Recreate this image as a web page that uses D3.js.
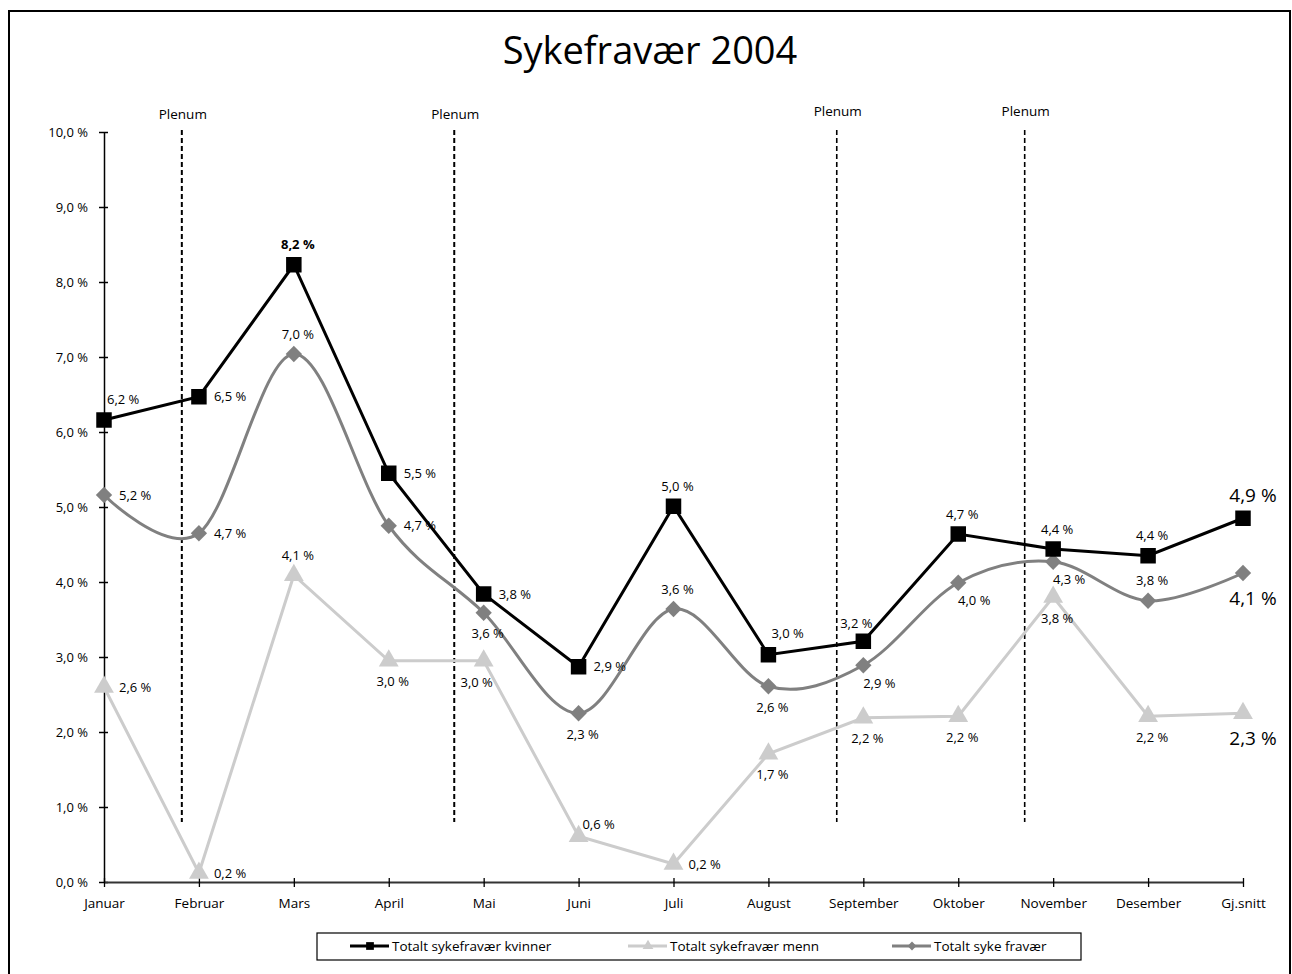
<!DOCTYPE html>
<html>
<head>
<meta charset="utf-8">
<script src="https://cdn.jsdelivr.net/npm/d3@7"></script>
<style>
	body { margin: 0; background: #fff; }
	text { font-family: "Open Sans", "Noto Sans", sans-serif; fill: #000; }
</style>
</head>
<body>
<div class="main"></div>
<script>
//data
var months = ["Januar", "Februar", "Mars", "April", "Mai", "Juni", "Juli", "August", "September", "Oktober", "November", "Desember", "Gj.snitt"];
var kvinner = [6.16, 6.47, 8.23, 5.45, 3.84, 2.87, 5.01, 3.03, 3.21, 4.64, 4.44, 4.35, 4.85];
var menn = [2.6, 0.12, 4.09, 2.95, 2.95, 0.61, 0.24, 1.71, 2.19, 2.21, 3.8, 2.21, 2.25];
var totalt = [5.16, 4.65, 7.04, 4.75, 3.59, 2.25, 3.64, 2.61, 2.89, 3.99, 4.27, 3.75, 4.12];
var kvinnerLabels = ["6,2 %", "6,5 %", "8,2 %", "5,5 %", "3,8 %", "2,9 %", "5,0 %", "3,0 %", "3,2 %", "4,7 %", "4,4 %", "4,4 %", "4,9 %"];
var mennLabels = ["2,6 %", "0,2 %", "4,1 %", "3,0 %", "3,0 %", "0,6 %", "0,2 %", "1,7 %", "2,2 %", "2,2 %", "3,8 %", "2,2 %", "2,3 %"];
var totaltLabels = ["5,2 %", "4,7 %", "7,0 %", "4,7 %", "3,6 %", "2,3 %", "3,6 %", "2,6 %", "2,9 %", "4,0 %", "4,3 %", "3,8 %", "4,1 %"];
//where each data label sits relative to its point
var kvinnerSide = ["ar", "r", "a", "r", "r", "r", "a", "ar", "al", "a", "a", "a", "a"];
var mennSide = ["r", "r", "a", "b", "bl", "arr", "r", "b", "b", "b", "b", "b", "b"];
var totaltSide = ["r", "r", "a", "r", "b", "b", "a", "b", "br", "br", "br", "a", "b"];
var yTicks = [0, 1, 2, 3, 4, 5, 6, 7, 8, 9, 10];
//plenum markers, as positions on the month index
var plenum = [0.82, 3.69, 7.72, 9.7];
var seriesNames = ["Totalt sykefravær kvinner", "Totalt sykefravær menn", "Totalt syke fravær"];

var W = 1292, H = 974;
var svg = d3.select(".main")
	.append("svg")
	.attr("width", W)
	.attr("height", H);

//outer frame
svg.append("rect")
	.attr("x", 9).attr("y", 11)
	.attr("width", 1281).attr("height", 975)
	.style("fill", "none")
	.style("stroke", "#000")
	.style("stroke-width", 2);

svg.append("text")
	.attr("x", 650).attr("y", 64)
	.attr("text-anchor", "middle")
	.style("font-size", "38px")
	.text("Sykefravær 2004");

var xScale = d3.scalePoint()
	.domain(months)
	.range([104, 1243]);
var yScale = d3.scaleLinear()
	.domain([0, 10])
	.range([882, 132]);
var xIdx = d3.scaleLinear()
	.domain([0, months.length - 1])
	.range([104, 1243]);

function pct(v) { return d3.format(".1f")(v).replace(".", ",") + " %"; }

//y axis
var yAxis = d3.axisLeft(yScale)
	.tickValues(yTicks)
	.tickFormat(pct)
	.tickSizeInner(5)
	.tickSizeOuter(0)
	.tickPadding(11);
var gy = svg.append("g")
	.attr("class", "y-axis")
	.attr("transform", "translate(104,0)")
	.call(yAxis);
gy.select(".domain").style("stroke", "#000").style("stroke-width", 1.5);
gy.selectAll(".tick line").attr("x2", 4).attr("x1", -5).style("stroke-width", 1.5);
gy.selectAll(".tick text").style("font-size", "13px").style("font-family", "\"Open Sans\", sans-serif");

//x axis
var xAxis = d3.axisBottom(xScale)
	.tickSizeInner(4)
	.tickSizeOuter(0)
	.tickPadding(12);
var gx = svg.append("g")
	.attr("class", "x-axis")
	.attr("transform", "translate(0,882)")
	.call(xAxis);
gx.select(".domain").style("stroke", "#333").style("stroke-width", 2);
gx.selectAll(".tick line").attr("y1", -4).attr("y2", 5).style("stroke", "#000").style("stroke-width", 1.3);
gx.selectAll(".tick text").style("font-size", "13.5px").style("font-family", "\"Open Sans\", sans-serif");

//plenum lines
var pl = svg.append("g").attr("class", "plenum")
	.selectAll("g")
	.data(plenum)
	.enter()
	.append("g");
pl.append("line")
	.attr("x1", function(d) { return xIdx(d); })
	.attr("x2", function(d) { return xIdx(d); })
	.attr("y1", 130)
	.attr("y2", 822)
	.style("stroke", "#000")
	.style("stroke-width", function(d, i) { return i < 2 ? 2 : 1.6; })
	.style("stroke-dasharray", "5,3");
pl.append("text")
	.attr("x", function(d) { return xIdx(d) + 1; })
	.attr("y", function(d, i) { return i < 2 ? 119 : 116; })
	.attr("text-anchor", "middle")
	.style("font-size", "13.5px")
	.text("Plenum");

//marker shapes
var sqr = d3.symbol().type(d3.symbolSquare).size(240);
var tri = d3.symbol().type(d3.symbolTriangle).size(170);
var dia = d3.symbol().type(d3.symbolDiamond2).size(170);

var series = [
	{ name: seriesNames[0], values: kvinner, labels: kvinnerLabels, side: kvinnerSide, color: "#000", curve: d3.curveLinear, sym: sqr },
	{ name: seriesNames[1], values: menn, labels: mennLabels, side: mennSide, color: "#cccccc", curve: d3.curveLinear, sym: tri },
	{ name: seriesNames[2], values: totalt, labels: totaltLabels, side: totaltSide, color: "#808080", curve: d3.curveCardinal.tension(0), sym: dia }
];
var drawOrder = [1, 2, 0];

drawOrder.forEach(function(k) {
	var s = series[k];
	var line = d3.line()
		.x(function(d, i) { return xScale(months[i]); })
		.y(function(d) { return yScale(d); })
		.curve(s.curve);
	svg.append("path")
		.datum(s.values)
		.attr("d", line)
		.style("fill", "none")
		.style("stroke", s.color)
		.style("stroke-width", 3);
	svg.append("g")
		.selectAll("path")
		.data(s.values)
		.enter()
		.append("path")
		.attr("d", s.sym)
		.attr("transform", function(d, i) { return "translate(" + xScale(months[i]) + "," + yScale(d) + ")"; })
		.style("fill", s.color);
});

//label offsets by side code: anchor, dx, dy of text centre
var sides = {
	r: ["start", 15, 0],
	ar: ["start", 3, -21],
	a: ["middle", 4, -20],
	al: ["middle", -7, -18],
	arr: ["middle", 20, -12],
	b: ["middle", 4, 21],
	bl: ["middle", -7, 22],
	br: ["middle", 16, 18]
};

drawOrder.forEach(function(k) {
	var s = series[k];
	svg.append("g")
		.selectAll("text")
		.data(s.values)
		.enter()
		.append("text")
		.each(function(d, i) {
			var o = sides[s.side[i]];
			var big = (i == months.length - 1);
			var fs = big ? 19 : 13;
			var dyExtra = big ? (o[2] < 0 ? -3 : 4) : 0;
			d3.select(this)
				.attr("x", xScale(months[i]) + o[1] + (big ? 6 : 0))
				.attr("y", yScale(d) + o[2] + dyExtra + fs * 0.36)
				.attr("text-anchor", o[0])
				.style("font-size", fs + "px")
				.style("font-weight", (k == 0 && i == 2) ? "bold" : "normal")
				.text(s.labels[i]);
		});
});

//legend
var legend = svg.append("g").attr("class", "legend");
legend.append("rect")
	.attr("x", 317).attr("y", 933)
	.attr("width", 764).attr("height", 27)
	.style("fill", "#fff")
	.style("stroke", "#000")
	.style("stroke-width", 1.2);
var legX = [350, 628, 892];
series.forEach(function(s, i) {
	var g = legend.append("g").attr("transform", "translate(" + legX[i] + ",946)");
	g.append("line")
		.attr("x1", 0).attr("x2", 39)
		.style("stroke", s.color)
		.style("stroke-width", 3);
	g.append("path")
		.attr("d", i == 0 ? d3.symbol().type(d3.symbolSquare).size(60) : (i == 1 ? d3.symbol().type(d3.symbolTriangle).size(50) : d3.symbol().type(d3.symbolDiamond2).size(50)))
		.attr("transform", "translate(20,0)")
		.style("fill", s.color);
	g.append("text")
		.attr("x", 42).attr("y", 5)
		.style("font-size", "13.5px")
		.text(s.name);
});
</script>
</body>
</html>
